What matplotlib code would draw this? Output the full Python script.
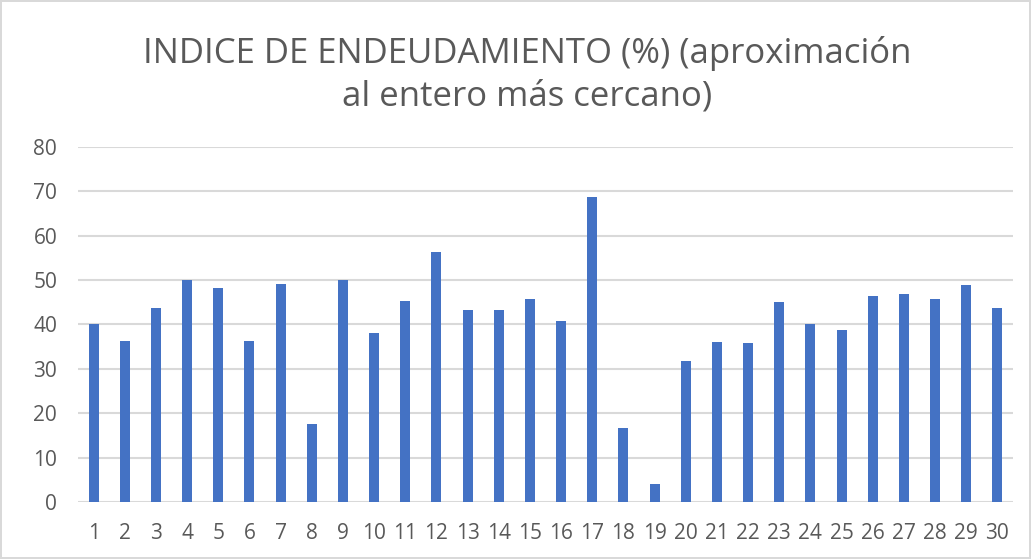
import matplotlib.pyplot as plt

# datos
empresas = list(range(1, 31))
indice = [40.0, 36.3, 43.8, 50.1, 48.3, 36.3, 49.2, 17.5, 50.0, 38.0,
          45.4, 56.3, 43.2, 43.2, 45.7, 40.8, 68.8, 16.7, 4.0, 31.7,
          36.1, 35.9, 45.0, 40.0, 38.8, 46.4, 46.8, 45.8, 48.9, 43.8]
y_ticks = [0, 10, 20, 30, 40, 50, 60, 70, 80]

titulo = "INDICE DE ENDEUDAMIENTO (%) (aproximación\nal entero más cercano)"

plt.rcParams['font.family'] = ['Open Sans', 'DejaVu Sans']

fig = plt.figure(figsize=(10.31, 5.59), dpi=100)
fig.patch.set_edgecolor('#D9D9D9')
fig.patch.set_linewidth(1.5)
ax = fig.add_axes([0.0757, 0.102, 0.9068, 0.635])

ax.bar(empresas, indice, width=0.32, color='#4472C4', zorder=3)

ax.set_xlim(0.5, 30.5)
ax.set_ylim(0, 80)
ax.set_yticks(y_ticks)
ax.set_xticks(empresas)
ax.yaxis.grid(True, color='#D9D9D9', linewidth=1.5, zorder=0)
for s in ax.spines.values():
    s.set_visible(False)
ax.tick_params(axis='both', length=0, labelsize=15, colors='#595959')
ax.tick_params(axis='x', pad=15)
ax.tick_params(axis='y', pad=15)

fig.text(0.511, 0.867, titulo, ha='center', va='center', fontsize=25,
         color='#595959', linespacing=1.32)

fig.savefig('out.png', dpi=100)
